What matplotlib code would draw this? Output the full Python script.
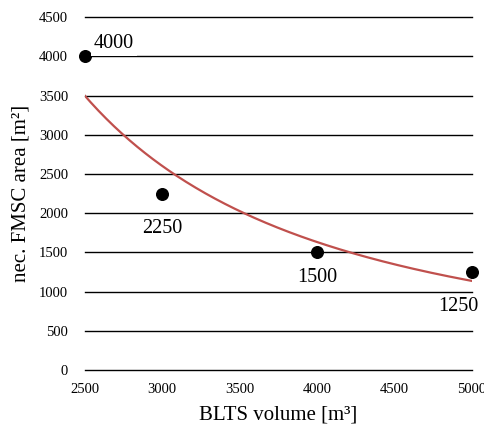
import numpy as np
import matplotlib
matplotlib.use("Agg")
import matplotlib.pyplot as plt

plt.rcParams['font.family'] = ['Liberation Serif', 'DejaVu Serif']

# data
volume = [2500, 3000, 4000, 5000]
area = [4000, 2250, 1500, 1250]
point_labels = ['4000', '2250', '1500', '1250']
label_offsets = [(21, 9), (0, -25), (0, -18), (-10, -25)]

# power trendline fitted to the points (like Excel)
b, ln_a = np.polyfit(np.log(volume), np.log(area), 1)
xs = np.linspace(2500, 5000, 200)
ys = np.exp(ln_a) * xs ** b

fig = plt.figure(figsize=(4.85, 4.29), dpi=100)
ax = fig.add_axes([0.175, 0.1375, 0.798, 0.8225])

ax.set_xlim(2500, 5000)
ax.set_ylim(0, 4500)
ax.set_xticks(range(2500, 5001, 500))
ax.set_yticks(range(0, 4501, 500))
ax.yaxis.grid(True, color='black', linewidth=1.0)
for gl in ax.get_ygridlines():
    gl.set_clip_on(False)
ax.set_axisbelow(True)
for s in ax.spines.values():
    s.set_visible(False)
ax.tick_params(length=0, labelsize=10.5)
ax.tick_params(axis='y', pad=12)
ax.tick_params(axis='x', pad=9)

ax.plot(xs, ys, color='#c0504d', linewidth=1.6, zorder=3)
ax.scatter(volume, area, s=70, color='black', zorder=4, clip_on=False)

for x, y, lab, off in zip(volume, area, point_labels, label_offsets):
    ax.annotate(lab, (x, y), xytext=off, textcoords='offset points',
                ha='center', va='center', fontsize=14.5, zorder=5,
                bbox=dict(boxstyle='square,pad=0.15', fc='white', ec='none'))

ax.set_xlabel('BLTS volume [m³]', fontsize=15, labelpad=7)
ax.set_ylabel('nec. FMSC area [m²]', fontsize=15, labelpad=6)

fig.savefig('out.png', dpi=100)
